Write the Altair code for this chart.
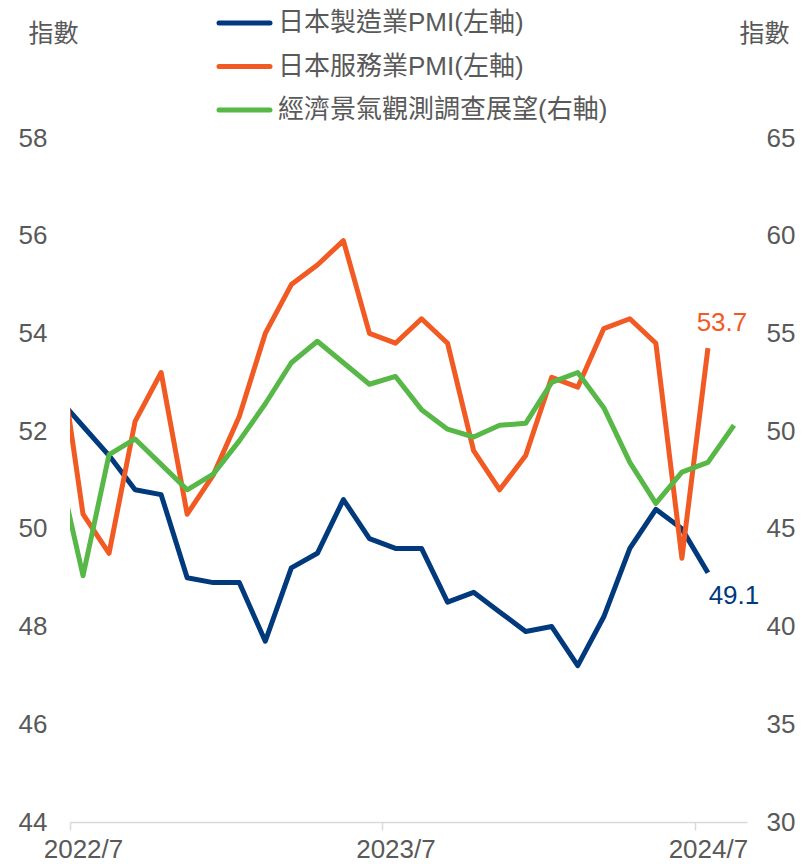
import altair as alt
import pandas as pd

# ---------------- data ----------------
months = ["2022/6", "2022/7", "2022/8", "2022/9", "2022/10", "2022/11", "2022/12",
          "2023/1", "2023/2", "2023/3", "2023/4", "2023/5", "2023/6", "2023/7",
          "2023/8", "2023/9", "2023/10", "2023/11", "2023/12", "2024/1", "2024/2",
          "2024/3", "2024/4", "2024/5", "2024/6", "2024/7", "2024/8"]
mfg_pmi = [52.7, 52.1, 51.5, 50.8, 50.7, 49.0, 48.9, 48.9, 47.7, 49.2, 49.5, 50.6, 49.8,
           49.6, 49.6, 48.5, 48.7, 48.3, 47.9, 48.0, 47.2, 48.2, 49.6, 50.4, 50.0, 49.1, None]
svc_pmi = [54.0, 50.3, 49.5, 52.2, 53.2, 50.3, 51.1, 52.3, 54.0, 55.0, 55.4, 55.9, 54.0,
           53.8, 54.3, 53.8, 51.6, 50.8, 51.5, 53.1, 52.9, 54.1, 54.3, 53.8, 49.4, 53.7, None]
watchers = [48.5, 42.6, 48.8, 49.6, 48.3, 47.0, 47.8, 49.5, 51.4, 53.5, 54.6, 53.5, 52.4,
            52.8, 51.1, 50.1, 49.7, 50.3, 50.4, 52.5, 53.0, 51.2, 48.4, 46.3, 47.9, 48.4, 50.3]
series_names = ["日本製造業PMI(左軸)", "日本服務業PMI(左軸)", "經濟景氣觀測調查展望(右軸)"]
series_colors = ["#003A7D", "#F15A22", "#57B847"]
tick_labels = ["2022/7", "2023/7", "2024/7"]
axis_title = "指數"

# ---------------- tables ----------------
first_axis_month = months.index("2022/7")
rows = []
for i, m in enumerate(months):
    pos = i - first_axis_month + 0.5  # month centre on the axis
    for name, vals in zip(series_names, [mfg_pmi, svc_pmi, watchers]):
        v = vals[i]
        if v is not None:
            rows.append({"month": m, "pos": pos, "series": name, "value": v})
df = pd.DataFrame(rows)
last_lbl = df[(df["month"] == "2024/7") & (df["series"] != series_names[2])].copy()
last_lbl["label"] = last_lbl["value"].map(lambda v: f"{v:.1f}")
legend_df = pd.DataFrame({"series": series_names})

tick_vals = [tick_labels.index(t) * 12 for t in tick_labels]
label_expr = " : ".join(
    [f"datum.value == {v} ? '{t}'" for v, t in zip(tick_vals, tick_labels)]) + " : ''"

FONT = "'Liberation Sans', 'Noto Sans CJK TC', sans-serif"
CJK = "'Noto Sans CJK TC', sans-serif"
GRAY = "#595959"
LEFT_DOM = [44, 58]
RIGHT_DOM = [30, 65]

color = alt.Color("series:N", scale=alt.Scale(domain=series_names, range=series_colors),
                  legend=None)

x_scale = alt.Scale(domain=[0, 26], nice=False, zero=False)
x_axis = alt.Axis(values=tick_vals, labelExpr=label_expr, labelOffset=13,
                  title=None, grid=False, domainColor="#D9D9D9",
                  tickColor="#D9D9D9", tickSize=8, domainWidth=1.5, tickWidth=1.5,
                  labelFontSize=26, labelColor=GRAY, labelFont=FONT,
                  labelPadding=6, labelFlush=False)
x_enc = alt.X("pos:Q", scale=x_scale, axis=x_axis)

left_lines = alt.Chart(df).transform_filter(
    alt.FieldOneOfPredicate(field="series", oneOf=series_names[:2])
).mark_line(strokeWidth=5, clip=True, strokeJoin="round").encode(
    x=x_enc,
    y=alt.Y("value:Q", scale=alt.Scale(domain=LEFT_DOM, nice=False, zero=False),
            axis=alt.Axis(orient="left", values=list(range(44, 59, 2)), grid=False,
                          domain=False, ticks=False, tickSize=0, labelPadding=23,
                          labelFontSize=26, labelColor=GRAY, labelFont=FONT,
                          title=axis_title, titleAngle=0, titleX=-17, titleY=-105,
                          titleAlign="center", titleBaseline="middle",
                          titleFontSize=25, titleFontWeight="normal",
                          titleColor=GRAY, titleFont=CJK)),
    color=color,
    detail="series:N",
    order="pos:Q",
)

right_line = alt.Chart(df).transform_filter(
    alt.FieldEqualPredicate(field="series", equal=series_names[2])
).mark_line(strokeWidth=5, clip=True, strokeJoin="round").encode(
    x=x_enc,
    y=alt.Y("value:Q", scale=alt.Scale(domain=RIGHT_DOM, nice=False, zero=False),
            axis=alt.Axis(orient="right", values=list(range(30, 66, 5)), grid=False,
                          domain=False, ticks=False, tickSize=0, labelPadding=19,
                          labelFontSize=26, labelColor=GRAY, labelFont=FONT,
                          title=axis_title, titleAngle=0, titleX=17, titleY=-105,
                          titleAlign="center", titleBaseline="middle",
                          titleFontSize=25, titleFontWeight="normal",
                          titleColor=GRAY, titleFont=CJK)),
    color=color,
    order="pos:Q",
)

y_left_noaxis = alt.Y("value:Q", scale=alt.Scale(domain=LEFT_DOM, nice=False, zero=False),
                      axis=None)

lbl_svc = alt.Chart(last_lbl).transform_filter(
    alt.FieldEqualPredicate(field="series", equal=series_names[1])
).mark_text(fontSize=26, font=FONT, dx=14, dy=-25, align="center",
            baseline="middle").encode(x=x_enc, y=y_left_noaxis, text="label:N",
                                      color=color)
lbl_mfg = alt.Chart(last_lbl).transform_filter(
    alt.FieldEqualPredicate(field="series", equal=series_names[0])
).mark_text(fontSize=26, font=FONT, dx=26, dy=23, align="center",
            baseline="middle").encode(x=x_enc, y=y_left_noaxis, text="label:N",
                                      color=color)

leg_y = alt.Y("series:N", scale=alt.Scale(type="point", domain=series_names,
                                           range=[-115, -28], padding=0), axis=None)
leg_rule = alt.Chart(legend_df).mark_rule(strokeWidth=5, strokeCap="round").encode(
    x=alt.value(149), x2=alt.value(200), y=leg_y, color=color)
leg_text = alt.Chart(legend_df).mark_text(
    align="left", baseline="middle", fontSize=26, font=FONT, color=GRAY
).encode(x=alt.value(208), y=leg_y, text="series:N")

chart = alt.layer(left_lines, right_line, lbl_svc, lbl_mfg, leg_rule, leg_text).resolve_scale(
    y="independent"
).properties(
    width=677, height=684,
    background="white",
    autosize=alt.AutoSizeParams(type="none"),
    padding={"left": 62, "top": 130, "right": 50, "bottom": 42},
).configure_view(stroke=None)

chart.save("out.html", embed_options={"renderer": "svg", "actions": False})
